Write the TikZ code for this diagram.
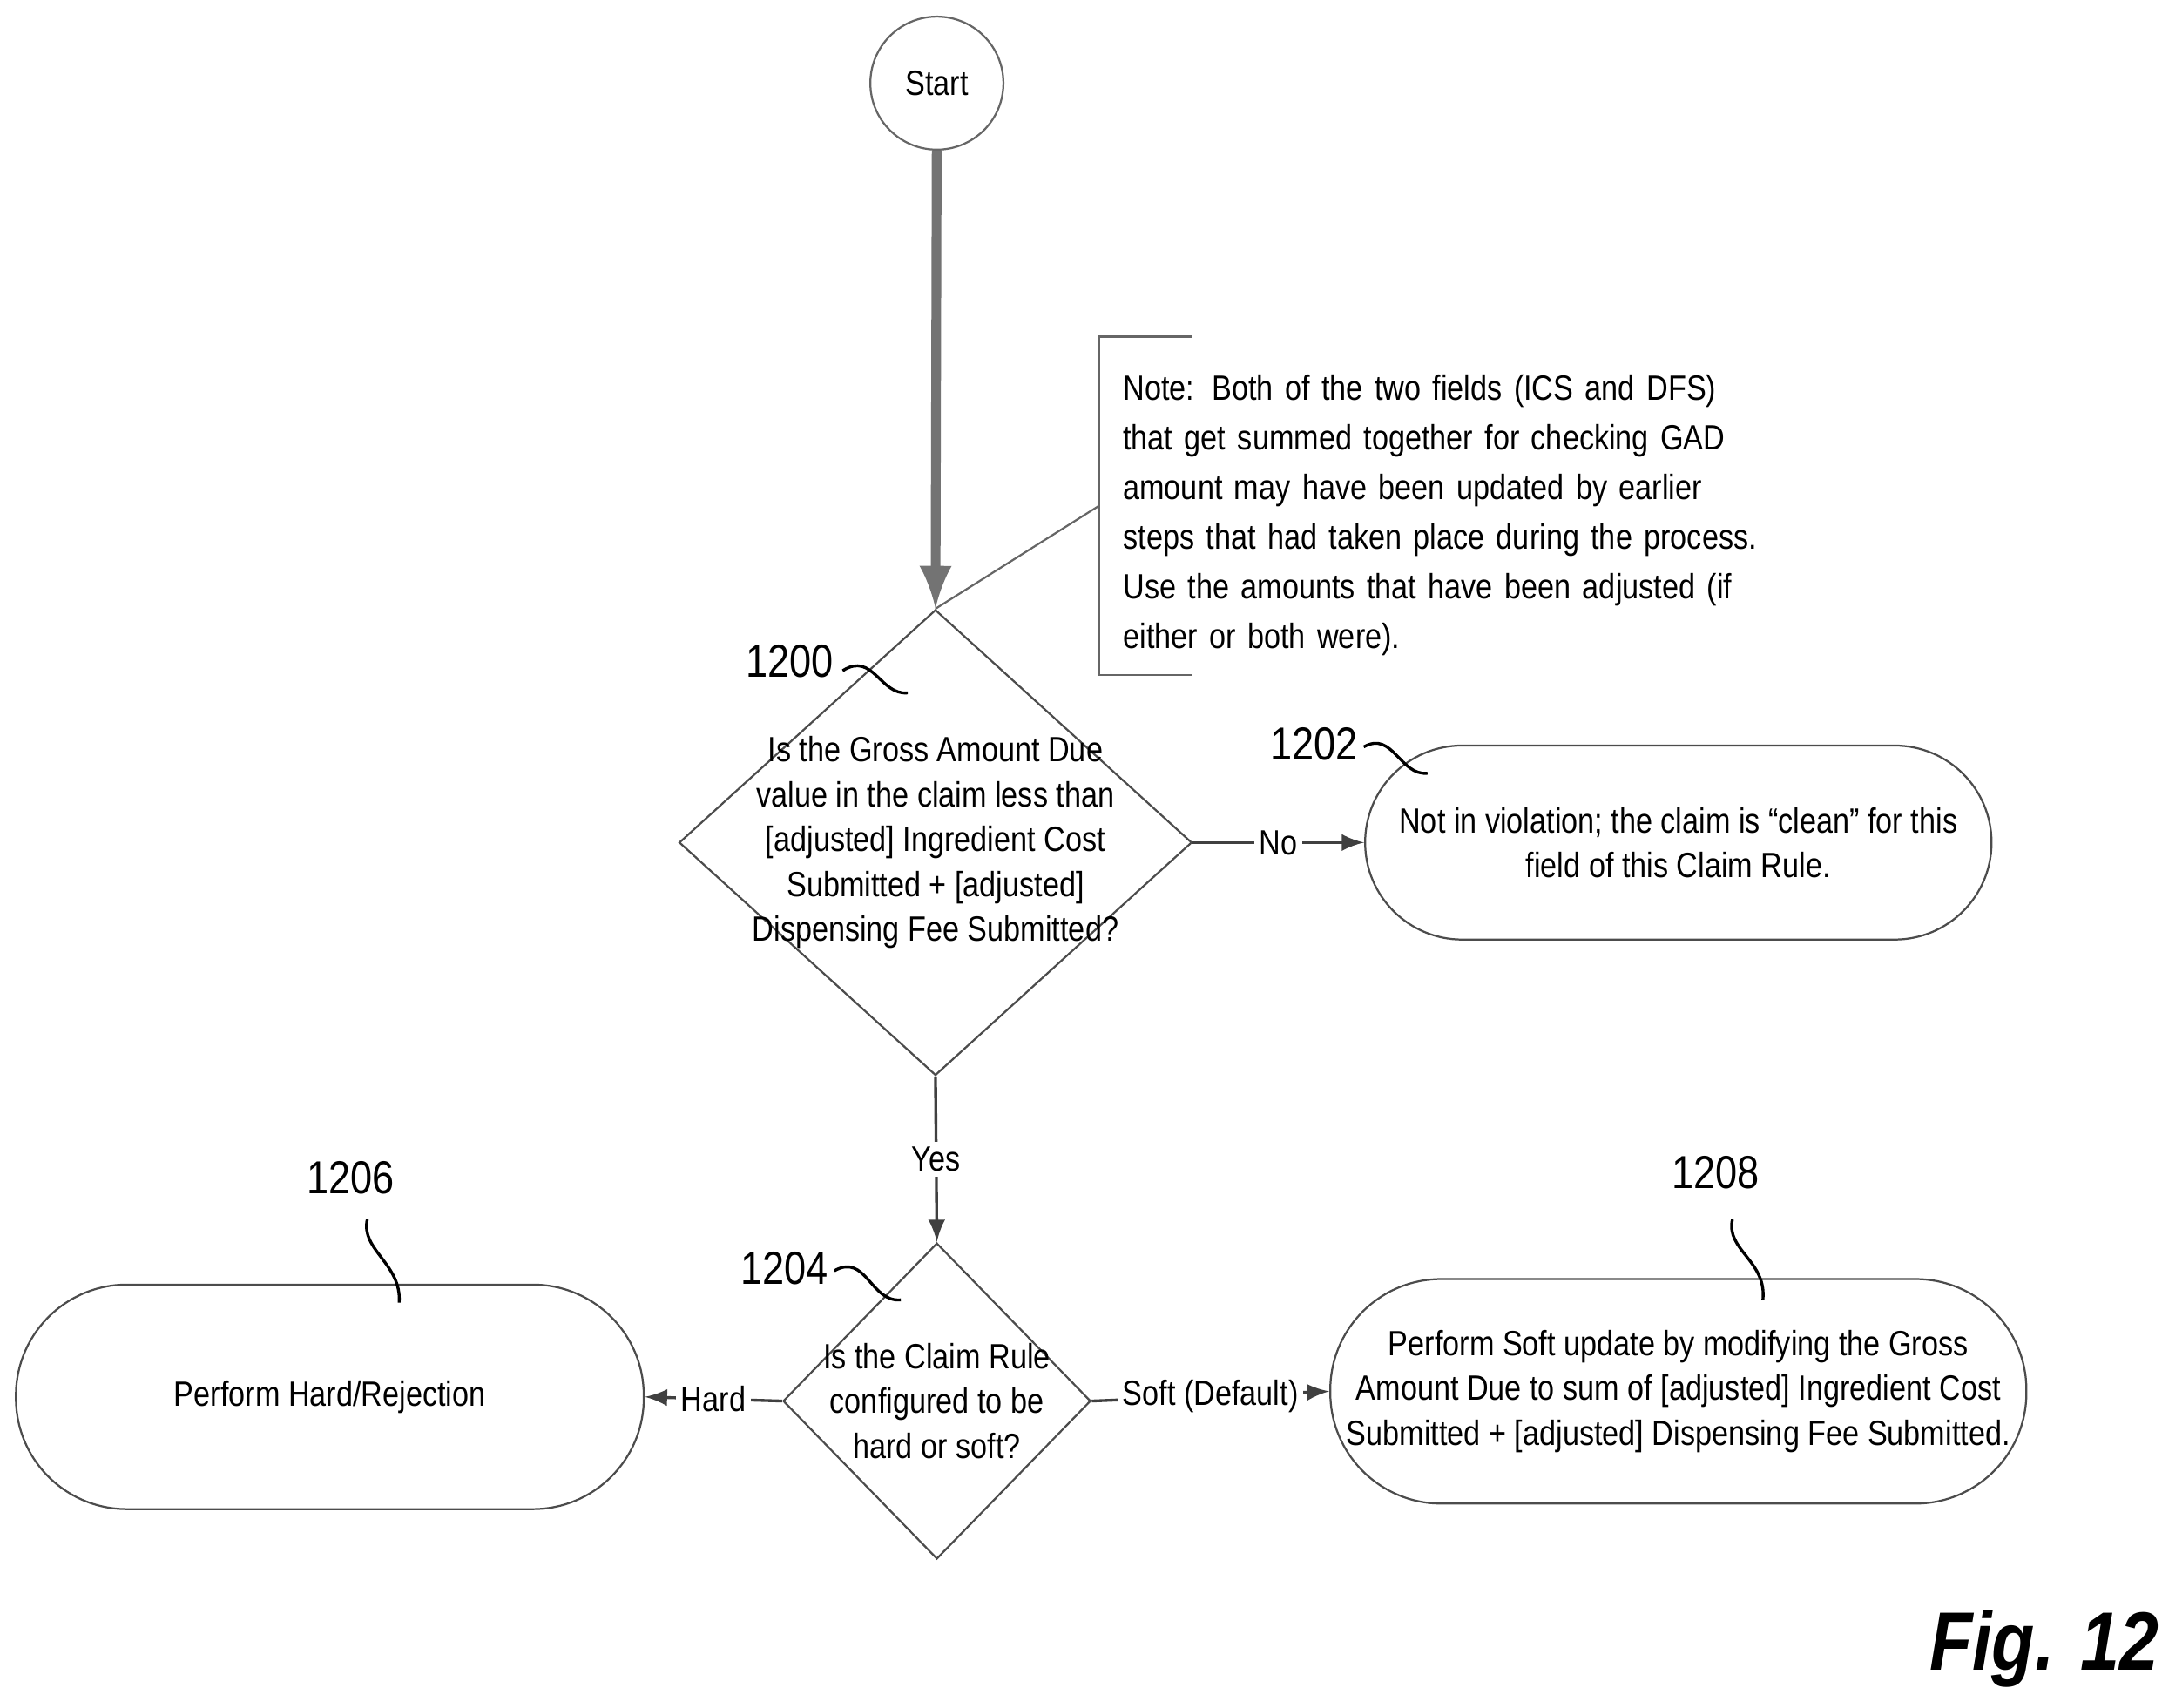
\documentclass[tikz,border=0pt]{standalone}
\usepackage{fontspec}
\setmainfont{Liberation Sans}[FakeStretch=0.85]
\usetikzlibrary{shapes.geometric}
\begin{document}
\begin{tikzpicture}[
    box/.style={draw=black!70, rectangle, rounded corners=0.7cm, align=center, font=\fontsize{7.2}{9.2}\selectfont},
    dia/.style={draw=black!70, diamond, inner sep=0pt},
    dtext/.style={align=center, font=\fontsize{7.2}{9.2}\selectfont},
    flow/.style={draw=black!75, -latex, line width=0.6pt},
    lbl/.style={fill=white, inner sep=1pt, font=\fontsize{7.2}{9}\selectfont},
    refnum/.style={font=\fontsize{9.5}{11}\selectfont},
    squig/.style={draw=black, line width=0.6pt}
]
    \useasboundingbox (0,0) rectangle (15.6,12.32);

    % start and first test
    \node[draw=black!60, circle, minimum size=0.96cm, font=\fontsize{7.2}{9}\selectfont] (start) at (6.76, 11.72) {Start};
    \node[dia, minimum width=3.7cm, minimum height=3.36cm] (gad) at (6.75, 6.24) {};
    \node[dtext] (gadtext) at (6.75, 6.24) {Is the Gross Amount Due\\value in the claim less than\\{}[adjusted] Ingredient Cost\\Submitted + [adjusted]\\Dispensing Fee Submitted?};
    \draw[draw=black!55, -latex, line width=2pt] (start) -- (gad.north);

    % note
    \coordinate (nt) at (7.93, 9.89);
    \coordinate (nb) at (7.93, 7.45);
    \coordinate (nhook) at (7.93, 8.67);
    \draw[black!60] (8.6, 9.89) -- (nt) -- (nb) -- (8.6, 7.45);
    \node[anchor=north west, text width=4.7cm, align=left, font=\fontsize{7.2}{10.2}\selectfont] (note) at (7.98, 9.74)
        {Note: Both of the two fields (ICS and DFS) that get summed together for checking GAD amount may have been updated by earlier steps that had taken place during the process. Use the amounts that have been adjusted (if either or both were).};
    \draw[black!60] (gad.north) -- (nhook);

    % outcomes
    \node[box, minimum width=4.52cm, minimum height=1.4cm] (clean) at (12.11, 6.24) {Not in violation; the claim is ``clean'' for this\\field of this Claim Rule.};
    \draw[flow] (gad.east) -- node[lbl] {No} (clean.west);

    \node[dia, minimum width=2.22cm, minimum height=2.28cm] (cfg) at (6.76, 2.21) {};
    \node[dtext] (cfgtext) at (6.76, 2.21) {Is the Claim Rule\\configured to be\\hard or soft?};
    \draw[flow] (gad.south) -- node[lbl, pos=0.5] {Yes} (cfg.north);

    \node[box, minimum width=4.53cm, minimum height=1.62cm, rounded corners=0.8cm] (hard) at (2.38, 2.24) {Perform Hard/Rejection};
    \node[box, minimum width=4.97cm, minimum height=1.62cm, rounded corners=0.8cm] (soft) at (12.11, 2.28) {Perform Soft update by modifying the Gross\\Amount Due to sum of [adjusted] Ingredient Cost\\Submitted + [adjusted] Dispensing Fee Submitted.};
    \draw[flow] (cfg.west) -- node[lbl] {Hard} (hard.east);
    \draw[flow] (cfg.east) -- node[lbl] {Soft (Default)} (soft.west);

    % reference numerals
    \node[refnum] (n1200) at (5.70, 7.55) {1200};
    \draw[squig] (6.08, 7.48) .. controls (6.3, 7.62) and (6.35, 7.3) .. (6.55, 7.32);
    \node[refnum] (n1202) at (9.48, 6.95) {1202};
    \draw[squig] (9.84, 6.93) .. controls (10.05, 7.05) and (10.1, 6.72) .. (10.3, 6.74);
    \node[refnum] (n1204) at (5.66, 3.17) {1204};
    \draw[squig] (6.02, 3.15) .. controls (6.25, 3.28) and (6.28, 2.92) .. (6.5, 2.94);
    \node[refnum] (n1206) at (2.53, 3.82) {1206};
    \draw[squig] (2.65, 3.52) .. controls (2.6, 3.3) and (2.9, 3.2) .. (2.88, 2.92);
    \node[refnum] (n1208) at (12.38, 3.86) {1208};
    \draw[squig] (12.5, 3.52) .. controls (12.45, 3.3) and (12.75, 3.22) .. (12.72, 2.94);

    \node[font=\fontsize{17}{19}\selectfont\bfseries\itshape] (fig) at (14.75, 0.42) {Fig. 12};
\end{tikzpicture}
\end{document}
